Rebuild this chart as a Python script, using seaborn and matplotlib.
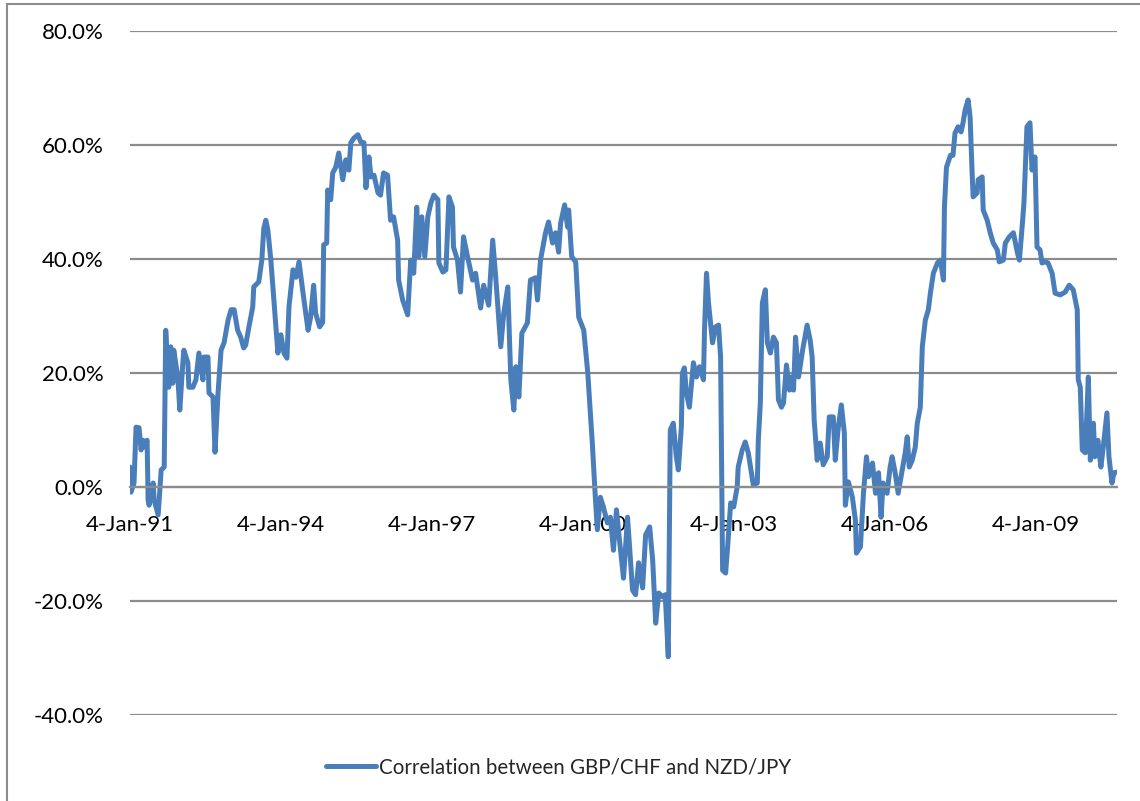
import numpy as np
import pandas as pd
import matplotlib
matplotlib.use("Agg")
import matplotlib.pyplot as plt
import matplotlib.dates as mdates
from matplotlib.ticker import PercentFormatter
from matplotlib.patches import Rectangle
import seaborn as sns

# Rolling correlation, time in years after 4-Jan-1991 and value in percent
t_years = [
    0.00, 0.02, 0.08, 0.12, 0.18, 0.22, 0.26, 0.28, 0.34, 0.36, 0.38, 0.46, 0.48, 0.56, 0.62, 0.68,
    0.71, 0.77, 0.81, 0.85, 0.87, 0.95, 0.99, 1.05, 1.07, 1.15, 1.17, 1.25, 1.31, 1.37, 1.45, 1.47,
    1.55, 1.57, 1.65, 1.69, 1.75, 1.81, 1.87, 1.95, 2.01, 2.07, 2.14, 2.20, 2.26, 2.30, 2.36, 2.44,
    2.46, 2.56, 2.62, 2.66, 2.70, 2.74, 2.80, 2.90, 2.94, 3.00, 3.06, 3.12, 3.16, 3.24, 3.30, 3.36,
    3.44, 3.54, 3.59, 3.65, 3.69, 3.77, 3.83, 3.85, 3.91, 3.93, 3.99, 4.03, 4.09, 4.15, 4.23, 4.29,
    4.35, 4.39, 4.45, 4.53, 4.59, 4.65, 4.69, 4.75, 4.79, 4.85, 4.93, 4.98, 5.04, 5.12, 5.18, 5.24,
    5.32, 5.34, 5.42, 5.52, 5.58, 5.64, 5.70, 5.74, 5.80, 5.86, 5.92, 5.98, 6.04, 6.12, 6.14, 6.22,
    6.28, 6.34, 6.41, 6.43, 6.51, 6.57, 6.63, 6.71, 6.81, 6.87, 6.97, 7.03, 7.13, 7.21, 7.27, 7.37,
    7.43, 7.51, 7.57, 7.63, 7.67, 7.73, 7.79, 7.90, 7.96, 8.06, 8.10, 8.16, 8.26, 8.32, 8.40, 8.46,
    8.52, 8.56, 8.64, 8.70, 8.72, 8.78, 8.86, 8.92, 9.02, 9.10, 9.19, 9.25, 9.29, 9.35, 9.41, 9.49,
    9.55, 9.61, 9.67, 9.73, 9.81, 9.89, 9.99, 10.05, 10.11, 10.19, 10.25, 10.33, 10.39, 10.45, 10.51, 10.59,
    10.64, 10.70, 10.74, 10.80, 10.86, 10.90, 10.96, 10.98, 11.02, 11.06, 11.12, 11.20, 11.26, 11.32, 11.40, 11.42,
    11.46, 11.50, 11.58, 11.64, 11.70, 11.74, 11.78, 11.84, 11.88, 11.94, 12.00, 12.07, 12.09, 12.17, 12.23, 12.29,
    12.39, 12.47, 12.49, 12.53, 12.57, 12.63, 12.67, 12.73, 12.79, 12.85, 12.89, 12.95, 12.99, 13.05, 13.11, 13.15,
    13.19, 13.23, 13.29, 13.37, 13.46, 13.52, 13.56, 13.60, 13.66, 13.72, 13.78, 13.86, 13.90, 13.98, 14.02, 14.08,
    14.14, 14.20, 14.22, 14.28, 14.36, 14.42, 14.44, 14.52, 14.58, 14.64, 14.68, 14.76, 14.82, 14.88, 14.93, 14.97,
    15.05, 15.11, 15.15, 15.21, 15.27, 15.35, 15.41, 15.45, 15.49, 15.55, 15.61, 15.65, 15.71, 15.75, 15.81, 15.87,
    15.91, 15.97, 16.05, 16.11, 16.17, 16.19, 16.23, 16.31, 16.36, 16.40, 16.46, 16.52, 16.56, 16.60, 16.66, 16.70,
    16.74, 16.76, 16.84, 16.86, 16.94, 16.96, 17.04, 17.10, 17.16, 17.24, 17.28, 17.36, 17.40, 17.48, 17.56, 17.64,
    17.68, 17.74, 17.77, 17.83, 17.89, 17.93, 17.99, 18.03, 18.09, 18.13, 18.19, 18.25, 18.33, 18.39, 18.49, 18.59,
    18.67, 18.75, 18.83, 18.85, 18.89, 18.93, 18.99, 19.05, 19.09, 19.15, 19.18, 19.24, 19.30, 19.34, 19.42, 19.46,
    19.52, 19.56, 19.62,
]

corr_pct = [
    3.5, -0.9, 0.7, 10.5, 10.4, 6.5, 8.2, 7.0, 8.2, -2.3, -3.2, 0.7, -2.3, -4.9, 3.0, 3.5,
    27.5, 17.5, 24.6, 18.2, 24.0, 19.3, 13.5, 21.8, 24.0, 21.8, 17.5, 17.5, 18.8, 23.5, 18.8, 22.8,
    22.8, 16.5, 15.8, 6.1, 16.5, 24.0, 25.3, 29.3, 31.1, 31.1, 27.5, 26.3, 24.4, 24.9, 27.9, 31.6,
    35.1, 36.0, 39.8, 45.4, 46.8, 45.1, 39.8, 28.1, 23.5, 26.7, 23.5, 22.6, 31.6, 38.1, 36.8, 39.5,
    34.0, 27.5, 29.8, 35.4, 30.5, 28.1, 28.9, 42.5, 42.8, 52.1, 50.4, 55.1, 56.1, 58.6, 53.9, 57.4,
    55.6, 60.4, 61.2, 61.8, 60.5, 60.4, 52.5, 57.9, 54.4, 54.7, 51.6, 51.2, 55.1, 54.7, 46.8, 47.4,
    43.3, 36.3, 32.8, 30.2, 39.8, 37.5, 49.1, 40.4, 47.4, 40.4, 47.4, 49.8, 51.2, 50.4, 39.3, 37.7,
    38.1, 50.9, 49.1, 42.1, 39.8, 34.2, 43.9, 40.4, 36.3, 37.5, 31.4, 35.4, 31.9, 43.3, 36.8, 24.6,
    30.5, 35.1, 18.8, 13.5, 21.1, 15.8, 27.0, 28.8, 36.3, 36.7, 32.8, 39.8, 44.6, 46.5, 42.8, 44.6,
    41.2, 46.3, 49.5, 45.6, 48.6, 40.4, 39.5, 29.8, 27.5, 20.0, 7.7, -1.8, -7.5, -1.8, -3.5, -6.3,
    -5.3, -11.1, -4.0, -9.3, -16.0, -5.3, -18.1, -18.9, -13.3, -17.7, -8.4, -7.0, -12.8, -23.9, -18.6, -19.3,
    -18.9, -29.8, 10.0, 11.2, 5.3, 3.0, 10.5, 20.0, 20.9, 16.5, 14.0, 21.8, 19.3, 21.1, 18.8, 27.5,
    37.5, 32.3, 25.3, 28.1, 28.4, 22.8, -14.6, -15.1, -10.5, -2.8, -3.5, 0.0, 3.5, 6.5, 7.9, 6.0,
    0.4, 0.7, 8.2, 14.7, 32.3, 34.6, 25.3, 23.5, 26.3, 25.3, 15.3, 14.0, 14.7, 21.4, 17.0, 19.3,
    17.0, 26.3, 19.3, 24.0, 28.4, 25.8, 22.8, 11.8, 4.7, 7.7, 3.9, 5.3, 12.3, 12.3, 4.7, 10.5,
    14.4, 9.5, -3.2, 0.9, -1.8, -5.8, -11.6, -10.5, -1.1, 5.3, 1.8, 4.2, -1.1, 2.5, -5.3, 0.7,
    -1.1, 3.5, 5.3, 2.5, -1.1, 3.0, 6.0, 8.8, 3.5, 4.7, 7.0, 11.2, 14.0, 24.6, 29.3, 31.1,
    34.0, 37.5, 39.3, 39.8, 36.3, 49.1, 56.1, 58.2, 58.2, 62.1, 63.2, 62.3, 63.9, 66.1, 67.9, 64.9,
    55.1, 50.9, 51.6, 53.9, 54.4, 48.6, 46.8, 44.6, 42.8, 41.6, 39.5, 39.8, 42.8, 43.9, 44.6, 41.1,
    39.8, 46.3, 49.8, 63.2, 63.9, 55.6, 57.9, 42.1, 41.6, 39.3, 39.5, 39.3, 37.5, 34.0, 33.7, 34.2,
    35.4, 34.6, 31.1, 18.8, 17.5, 6.5, 6.0, 19.3, 4.7, 11.2, 5.3, 8.2, 3.5, 6.5, 13.0, 5.3,
    0.7, 2.5, 2.6,
]

tick_dates = ["1991-01-04", "1994-01-04", "1997-01-04", "2000-01-04",
              "2003-01-04", "2006-01-04", "2009-01-04"]
y_ticks = [-40, -20, 0, 20, 40, 60, 80]
series_label = "Correlation between GBP/CHF and NZD/JPY"

start = pd.Timestamp("1991-01-04")
dates = start + pd.to_timedelta(np.array(t_years) * 365.25, unit="D")
df = pd.DataFrame({"date": dates, "corr": corr_pct})

sns.set_theme(style="white")
plt.rcParams["font.family"] = ["Lato", "DejaVu Sans"]
plt.rcParams["axes.unicode_minus"] = False

W, H = 1140, 801
grey = "#8C8C8C"
blue = "#4A7EBB"

fig = plt.figure(figsize=(W / 100, H / 100), dpi=100)
ax = fig.add_axes([130 / W, 1 - 715 / H, (1117 - 130) / W, (715 - 31) / H])

sns.lineplot(data=df, x="date", y="corr", ax=ax, color=blue, lw=3.6,
             label=series_label, legend=False, sort=False,
             solid_joinstyle="round", solid_capstyle="round")

ax.set_xlim(df["date"].iloc[0], df["date"].iloc[-1])
ax.set_ylim(y_ticks[0], y_ticks[-1])
ax.set_yticks(y_ticks)
ax.yaxis.set_major_formatter(PercentFormatter(xmax=100, decimals=1))
ax.set_xticks(pd.to_datetime(tick_dates))
ax.xaxis.set_major_formatter(mdates.DateFormatter("%-d-%b-%y"))

ax.set_axisbelow(True)
ax.yaxis.grid(True, color=grey, lw=1.6)
ax.xaxis.grid(False)
for side in ("left", "right", "top"):
    ax.spines[side].set_visible(False)
ax.spines["bottom"].set_position(("data", 0))
ax.spines["bottom"].set_color(grey)
ax.spines["bottom"].set_linewidth(1.6)

ax.tick_params(axis="y", length=0, pad=19, labelsize=16, labelcolor="black")
ax.tick_params(axis="x", direction="inout", length=12, width=1.6, color=grey,
               pad=14, labelsize=16, labelcolor="black")
ax.set_xlabel("")
ax.set_ylabel("")

handles, labels = ax.get_legend_handles_labels()
fig.legend(handles, labels, loc="center", bbox_to_anchor=(0.49, 0.042),
           frameon=False, handlelength=2.45, handletextpad=0.15, fontsize=14.8)

# Outer chart-area border
fig.add_artist(Rectangle((7 / W, -0.1), 1.2, 1 - 4 / H + 0.1,
                         transform=fig.transFigure, fill=False,
                         ec=grey, lw=1.5))

fig.savefig("out.png", dpi=100)
